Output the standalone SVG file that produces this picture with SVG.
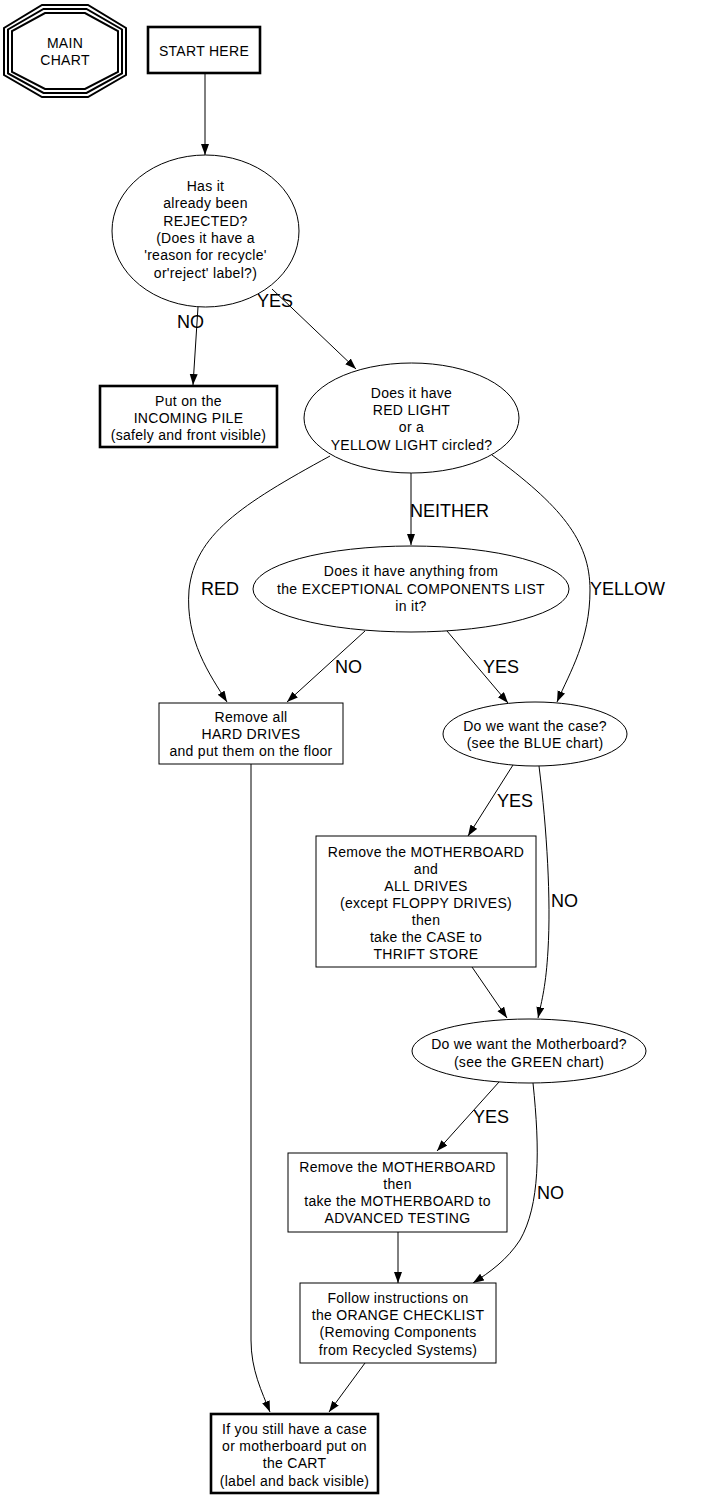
<svg xmlns="http://www.w3.org/2000/svg" width="701" height="1499" viewBox="0 0 701 1499">
<defs>
<marker id="ah" markerUnits="userSpaceOnUse" markerWidth="12" markerHeight="9" refX="11" refY="4" orient="auto">
<path d="M0,0 L11,4 L0,8 z" fill="#000"/>
</marker>
<style>
text{font-family:"Liberation Sans",Arial,sans-serif;fill:#000}
.n{font-size:14px;letter-spacing:0.3px;text-anchor:middle}
.l{font-size:18px}
.shape{fill:#fff;stroke:#000;stroke-width:1}
.thick{fill:#fff;stroke:#000;stroke-width:2.6}
.oct{fill:none;stroke:#000;stroke-width:2}
.e{fill:none;stroke:#000;stroke-width:1;marker-end:url(#ah)}
</style>
</defs>
<rect width="701" height="1499" fill="#fff"/>

<g id="connectors">
<path class="e" d="M205,73 L205,155"/>
<path class="e" d="M198,307 L193,385"/>
<path class="e" d="M272,289 L356,369"/>
<path class="e" d="M411,473 L411,545"/>
<path class="e" d="M330,456 C240,505 195,535 189,590 C185,640 210,675 227,702"/>
<path class="e" d="M365,631 L287,702"/>
<path class="e" d="M447,631 L508,703"/>
<path class="e" d="M492,455 C560,505 590,540 590,590 C590,640 570,672 557,702"/>
<path class="e" d="M513,765 L468,836"/>
<path class="e" d="M539,766 C547,830 551,900 548,950 C546,985 542,1000 538,1018"/>
<path class="e" d="M472,967 L507,1018"/>
<path class="e" d="M499,1082 L437,1151"/>
<path class="e" d="M533,1083 C540,1150 540,1205 520,1240 C507,1260 490,1272 473,1283"/>
<path class="e" d="M398,1232 L398,1283"/>
<path class="e" d="M365,1363 L329,1412"/>
<path class="e" d="M251,764 L251,1340 C251,1370 262,1392 270,1412"/>
<text class="l" x="177" y="328">NO</text>
<text class="l" x="257" y="307">YES</text>
<text class="l" x="410" y="517">NEITHER</text>
<text class="l" x="201" y="595">RED</text>
<text class="l" x="590" y="595">YELLOW</text>
<text class="l" x="335" y="673">NO</text>
<text class="l" x="483" y="673">YES</text>
<text class="l" x="497" y="807">YES</text>
<text class="l" x="551" y="907">NO</text>
<text class="l" x="473" y="1123">YES</text>
<text class="l" x="537" y="1199">NO</text>
</g>

<g id="main-chart">
<polygon class="oct" points="42,5 88,5 126,28 126,75 88,97 42,97 4,75 4,28"/>
<polygon class="oct" points="43.5,9 86.5,9 122,29.5 122,73.5 86.5,93 43.5,93 8,73.5 8,29.5"/>
<polygon class="oct" points="45,13 85,13 118,31 118,72 85,89 45,89 12,72 12,31"/>
<text class="n" x="65" y="48">MAIN</text>
<text class="n" x="65" y="65">CHART</text>
</g>

<g id="start">
<rect class="thick" x="148" y="27" width="112" height="46"/>
<text class="n" x="204" y="56">START HERE</text>
</g>

<g id="rejected">
<ellipse class="shape" cx="205.5" cy="231" rx="93.5" ry="76"/>
<text class="n" x="205.5" y="191">Has it</text>
<text class="n" x="205.5" y="208">already been</text>
<text class="n" x="205.5" y="226">REJECTED?</text>
<text class="n" x="205.5" y="243">(Does it have a</text>
<text class="n" x="205.5" y="260">'reason for recycle'</text>
<text class="n" x="205.5" y="278">or'reject' label?)</text>
</g>

<g id="incoming">
<rect class="thick" x="100" y="386" width="177" height="61"/>
<text class="n" x="188.5" y="406">Put on the</text>
<text class="n" x="188.5" y="423">INCOMING PILE</text>
<text class="n" x="188.5" y="440">(safely and front visible)</text>
</g>

<g id="lights">
<ellipse class="shape" cx="411.5" cy="418" rx="107.5" ry="55"/>
<text class="n" x="411.5" y="398">Does it have</text>
<text class="n" x="411.5" y="415">RED LIGHT</text>
<text class="n" x="411.5" y="432">or a</text>
<text class="n" x="411.5" y="450">YELLOW LIGHT circled?</text>
</g>

<g id="exceptional">
<ellipse class="shape" cx="411" cy="589" rx="158" ry="43"/>
<text class="n" x="411" y="576">Does it have anything from</text>
<text class="n" x="411" y="594">the EXCEPTIONAL COMPONENTS LIST</text>
<text class="n" x="411" y="611">in it?</text>
</g>

<g id="harddrives">
<rect class="shape" x="159" y="703" width="184" height="61"/>
<text class="n" x="251" y="722">Remove all</text>
<text class="n" x="251" y="739">HARD DRIVES</text>
<text class="n" x="251" y="756">and put them on the floor</text>
</g>

<g id="wantcase">
<ellipse class="shape" cx="535" cy="734" rx="92" ry="32"/>
<text class="n" x="535" y="731">Do we want the case?</text>
<text class="n" x="535" y="748">(see the BLUE chart)</text>
</g>

<g id="thrift">
<rect class="shape" x="316" y="836" width="220" height="131"/>
<text class="n" x="426" y="857">Remove the MOTHERBOARD</text>
<text class="n" x="426" y="874">and</text>
<text class="n" x="426" y="891">ALL DRIVES</text>
<text class="n" x="426" y="908">(except FLOPPY DRIVES)</text>
<text class="n" x="426" y="925">then</text>
<text class="n" x="426" y="942">take the CASE to</text>
<text class="n" x="426" y="959">THRIFT STORE</text>
</g>

<g id="wantmobo">
<ellipse class="shape" cx="529" cy="1051" rx="117" ry="32"/>
<text class="n" x="529" y="1049">Do we want the Motherboard?</text>
<text class="n" x="529" y="1067">(see the GREEN chart)</text>
</g>

<g id="advanced">
<rect class="shape" x="288" y="1153" width="219" height="79"/>
<text class="n" x="397.5" y="1172">Remove the MOTHERBOARD</text>
<text class="n" x="397.5" y="1189">then</text>
<text class="n" x="397.5" y="1206">take the MOTHERBOARD to</text>
<text class="n" x="397.5" y="1223">ADVANCED TESTING</text>
</g>

<g id="orange">
<rect class="shape" x="300" y="1283" width="196" height="80"/>
<text class="n" x="398" y="1303">Follow instructions on</text>
<text class="n" x="398" y="1320">the ORANGE CHECKLIST</text>
<text class="n" x="398" y="1337">(Removing Components</text>
<text class="n" x="398" y="1355">from Recycled Systems)</text>
</g>

<g id="cart">
<rect class="thick" x="211" y="1414" width="167" height="79"/>
<text class="n" x="294.5" y="1434">If you still have a case</text>
<text class="n" x="294.5" y="1451">or motherboard put on</text>
<text class="n" x="294.5" y="1468">the CART</text>
<text class="n" x="294.5" y="1486">(label and back visible)</text>
</g>
</svg>
